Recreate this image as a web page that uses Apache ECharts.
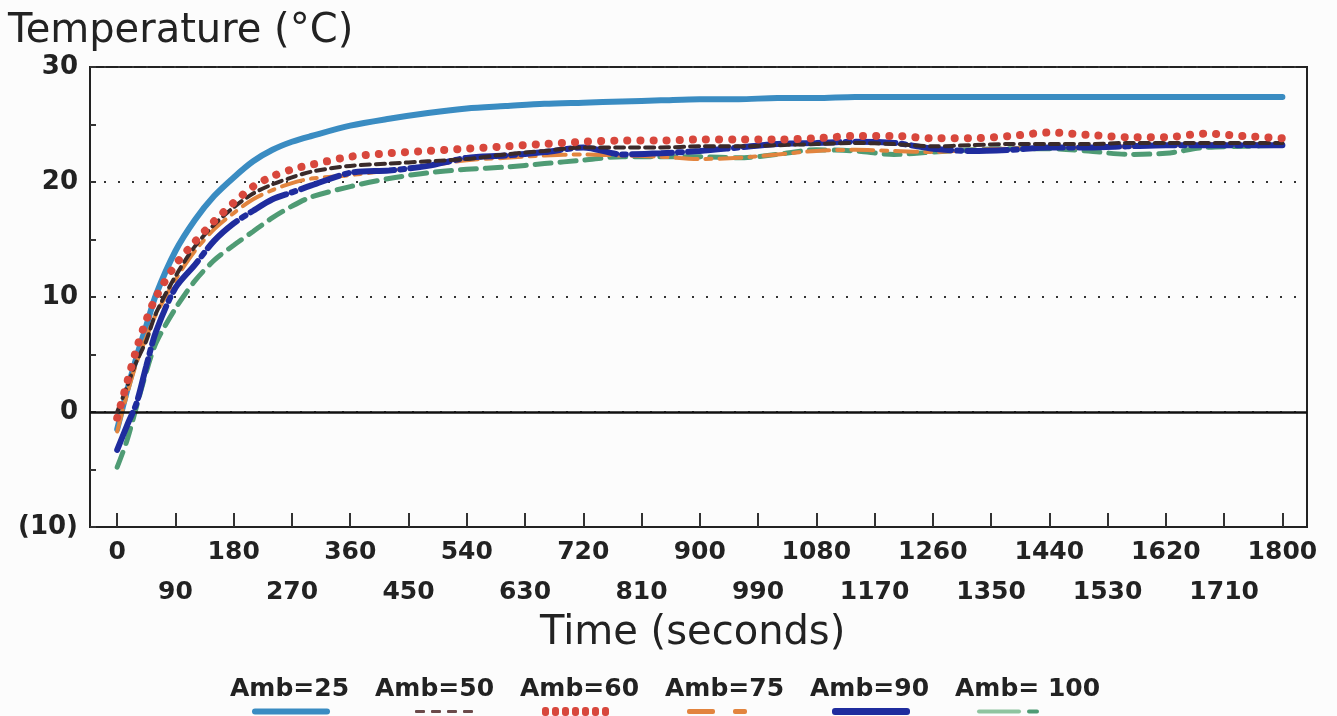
<!DOCTYPE html>
<html>
<head>
<meta charset="utf-8">
<script src="https://cdn.jsdelivr.net/npm/echarts@6/dist/echarts.min.js"></script>
<style>html,body{margin:0;padding:0;background:#fcfcfc;}#chart{width:1337px;height:716px;}</style>
</head>
<body>
<div id="chart"></div>
<script>
const times = [0,15,30,45,60,90,120,150,180,210,240,270,300,360,420,480,540,600,660,720,780,840,900,960,1020,1080,1140,1200,1260,1320,1380,1440,1500,1560,1620,1680,1740,1800];
const amb25 = [-1.5,1.8,4.8,7.5,10.2,14.0,16.7,18.8,20.4,21.8,22.8,23.5,24.0,24.9,25.5,26.0,26.4,26.6,26.8,26.9,27.0,27.1,27.2,27.2,27.3,27.3,27.4,27.4,27.4,27.4,27.4,27.4,27.4,27.4,27.4,27.4,27.4,27.4];
const amb50 = [0,2.2,4.4,6.2,8.6,11.8,14.4,16.3,17.8,19.0,19.8,20.4,20.9,21.4,21.6,21.8,22.0,22.4,22.7,23.0,23.0,23.0,23.1,23.1,23.2,23.3,23.4,23.3,23.1,23.2,23.3,23.3,23.3,23.4,23.4,23.4,23.4,23.4];
const amb60 = [-0.5,2.5,5.5,8,10,12.8,14.8,16.6,18.2,19.6,20.5,21.1,21.5,22.2,22.5,22.7,22.9,23.1,23.3,23.5,23.6,23.6,23.7,23.7,23.7,23.8,24.0,24.0,23.8,23.8,24.0,24.3,24.1,23.9,23.9,24.2,24.0,23.8];
const amb75 = [-1.7,1.5,4.3,6.5,8.5,11.5,14.0,15.9,17.3,18.5,19.3,19.9,20.3,20.6,21.0,21.4,21.9,22.1,22.3,22.4,22.3,22.2,22.0,22.1,22.4,22.7,22.8,22.7,22.6,22.8,22.9,23.0,23.0,23.1,23.2,23.3,23.3,23.3];
const amb90 = [-3.3,-1.2,0.8,4.0,7.0,10.8,12.8,14.9,16.4,17.5,18.5,19.1,19.7,20.8,21.0,21.4,22.1,22.3,22.6,23.0,22.4,22.5,22.7,23.0,23.3,23.4,23.5,23.4,22.9,22.7,22.8,23.0,23.0,23.1,23.2,23.2,23.2,23.2];
const amb100 = [-4.8,-2.5,0.5,3.5,6.0,9.0,11.4,13.2,14.5,15.7,16.9,17.9,18.7,19.6,20.3,20.8,21.1,21.3,21.6,21.9,22.2,22.2,22.2,22.1,22.4,22.8,22.7,22.4,22.6,22.8,22.9,22.9,22.7,22.4,22.5,23.0,23.1,23.2];
const xLabelsRow1 = [0,180,360,540,720,900,1080,1260,1440,1620,1800];
const xLabelsRow2 = [90,270,450,630,810,990,1170,1350,1530,1710];
const xTicks = [0,90,180,270,360,450,540,630,720,810,900,990,1080,1170,1260,1350,1440,1530,1620,1710,1800];
const seriesNames = ['Amb=25','Amb=50','Amb=60','Amb=75','Amb=90','Amb= 100'];

const pair = arr => arr.map((v,i)=>[times[i], v]);
const FONT = 'DejaVu Sans';
const C = {a25:'#3a8cc2', a50:'#3a2a2a', a60:'#d8473c', a75:'#e2843e', a90:'#1f2c9e', a100:'#4f9b74'};

const swatch = {
  'Amb=25': '{sp|}{s25|}',
  'Amb=50': '{sp2|}{d50|}{g6|}{d50|}{g6|}{d50|}{g6|}{d50|}',
  'Amb=60': '{sp|}{p60|}{g3|}{p60|}{g3|}{p60|}{g3|}{p60|}{g3|}{p60|}{g3|}{p60|}{g3|}{p60|}',
  'Amb=75': '{sp|}{o75a|}{g18|}{o75b|}',
  'Amb=90': '{sp|}{s90|}',
  'Amb= 100': '{sp|}{g100a|}{g6|}{g100b|}'
};
const LH = 14;

const chart = echarts.init(document.getElementById('chart'));
chart.setOption({
  backgroundColor: '#fcfcfc',
  animation: false,
  grid: {left: 90, right: 30, top: 67, bottom: 189, show: true, borderColor: '#222', borderWidth: 2, backgroundColor: 'transparent'},
  xAxis: [{
    type: 'value', min: -42, max: 1838,
    axisLine: {show: true, onZero: false, lineStyle: {color: '#222', width: 2}},
    axisTick: {show: true, inside: true, length: 14, customValues: xTicks, lineStyle: {color: '#333', width: 2}},
    axisLabel: {customValues: xLabelsRow1, margin: 13, fontFamily: FONT, fontWeight: 'bold', fontSize: 25, color: '#222', formatter: v => String(v)},
    splitLine: {show: false}
  },{
    type: 'value', min: -42, max: 1838, position: 'bottom',
    axisLine: {show: false}, axisTick: {show: false},
    axisLabel: {customValues: xLabelsRow2, margin: 53, fontFamily: FONT, fontWeight: 'bold', fontSize: 25, color: '#222', formatter: v => String(v)},
    splitLine: {show: false}
  }],
  yAxis: {
    type: 'value', min: -10, max: 30, interval: 10,
    axisLine: {show: true, onZero: false, lineStyle: {color: '#222', width: 2}},
    axisTick: {show: true, inside: true, length: 6, lineStyle: {color: '#333', width: 2}},
    minorTick: {show: true, splitNumber: 2, length: 6, lineStyle: {color: '#333', width: 2}},
    axisLabel: {margin: 12, fontFamily: FONT, fontWeight: 'bold', fontSize: 26, color: '#222',
      formatter: v => v < 0 ? '(' + (-v) + ')' : String(v)},
    splitLine: {show: true, lineStyle: {color: '#333', width: 2, type: [2, 12]}}
  },
  legend: {
    left: 220, top: 672, orient: 'horizontal', itemGap: 11, itemWidth: 0, itemHeight: 0, icon: 'none',
    data: seriesNames,
    formatter: name => '{n|' + name + '}\n' + swatch[name],
    textStyle: {
      rich: {
        n: {fontFamily: FONT, fontWeight: 'bold', fontSize: 25, color: '#222', width: 129, lineHeight: 30},
        sp: {width: 22, height: 8, lineHeight: LH},
        sp2: {width: 40, height: 8, lineHeight: LH},
        s25: {width: 78, height: 6, backgroundColor: C.a25, borderRadius: 3, lineHeight: LH},
        d50: {width: 10, height: 3, backgroundColor: '#6a4a4a', borderRadius: 1, lineHeight: LH},
        g6: {width: 6, height: 3, lineHeight: LH},
        g3: {width: 3, height: 3, lineHeight: LH},
        g18: {width: 18, height: 3, lineHeight: LH},
        p60: {width: 7, height: 9, backgroundColor: C.a60, borderRadius: 3, lineHeight: LH},
        o75a: {width: 28, height: 5, backgroundColor: C.a75, borderRadius: 2, lineHeight: LH},
        o75b: {width: 14, height: 5, backgroundColor: C.a75, borderRadius: 2, lineHeight: LH},
        s90: {width: 78, height: 7, backgroundColor: C.a90, borderRadius: 3, lineHeight: LH},
        g100a: {width: 44, height: 4, backgroundColor: '#8fc4a0', borderRadius: 2, lineHeight: LH},
        g100b: {width: 12, height: 4, backgroundColor: C.a100, borderRadius: 2, lineHeight: LH}
      }
    }
  },
  graphic: [
    {type: 'text', left: 8, top: 12, style: {text: 'Temperature (°C)', fontFamily: FONT, fontSize: 40, fill: '#222'}},
    {type: 'text', left: 540, top: 614, style: {text: 'Time (seconds)', fontFamily: FONT, fontSize: 40, fill: '#222'}}
  ],
  series: [
    {name: 'Amb=25', type: 'line', data: pair(amb25), smooth: 0.3, symbol: 'none', z: 2,
      lineStyle: {color: C.a25, width: 6, cap: 'round'}, itemStyle: {color: C.a25},
      markLine: {silent: true, symbol: 'none', label: {show: false}, data: [{yAxis: 0}], lineStyle: {color: '#111', width: 2.5, type: 'solid'}}},
    {name: 'Amb= 100', type: 'line', data: pair(amb100), smooth: 0.3, symbol: 'none', z: 3,
      lineStyle: {color: C.a100, width: 5, type: [16, 9], cap: 'round'}, itemStyle: {color: C.a100}},
    {name: 'Amb=75', type: 'line', data: pair(amb75), smooth: 0.3, symbol: 'none', z: 4,
      lineStyle: {color: C.a75, width: 4, type: [22, 8, 6, 8], cap: 'round'}, itemStyle: {color: C.a75}},
    {name: 'Amb=90', type: 'line', data: pair(amb90), smooth: 0.3, symbol: 'none', z: 5,
      lineStyle: {color: C.a90, width: 6, type: [40, 6, 4, 6], cap: 'round'}, itemStyle: {color: C.a90}},
    {name: 'Amb=50', type: 'line', data: pair(amb50), smooth: 0.3, symbol: 'none', z: 6,
      lineStyle: {color: C.a50, width: 4, type: [9, 6], cap: 'round'}, itemStyle: {color: C.a50}},
    {name: 'Amb=60', type: 'line', data: pair(amb60), smooth: 0.3, symbol: 'none', z: 7,
      lineStyle: {color: C.a60, width: 8, type: [0.1, 13], cap: 'round'}, itemStyle: {color: C.a60}}
  ]
});
</script>
</body>
</html>
